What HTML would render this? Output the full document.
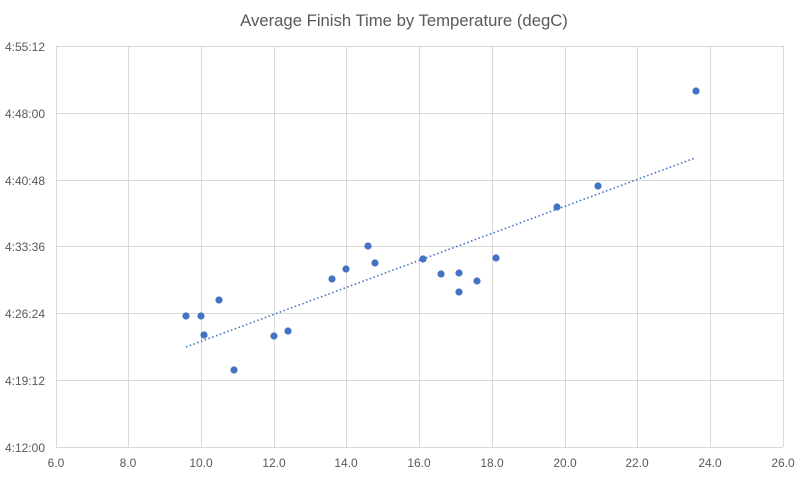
<!DOCTYPE html>
<html><head><style>body{margin:0;background:#fff}</style></head><body>
<svg width="809" height="478" xmlns="http://www.w3.org/2000/svg" font-family="Liberation Sans, sans-serif">
<rect width="809" height="478" fill="#fff"/>
<text x="404" y="26" text-anchor="middle" font-size="16.7" fill="#595959">Average Finish Time by Temperature (degC)</text>
<g stroke="#d9d9d9" stroke-width="1">
<line x1="56" y1="46.5" x2="783" y2="46.5"/><line x1="56" y1="113.5" x2="783" y2="113.5"/><line x1="56" y1="180.5" x2="783" y2="180.5"/><line x1="56" y1="246.5" x2="783" y2="246.5"/><line x1="56" y1="313.5" x2="783" y2="313.5"/><line x1="56" y1="380.5" x2="783" y2="380.5"/><line x1="56" y1="447.5" x2="783" y2="447.5"/>
<line x1="56.5" y1="46" x2="56.5" y2="447"/><line x1="128.5" y1="46" x2="128.5" y2="447"/><line x1="201.5" y1="46" x2="201.5" y2="447"/><line x1="274.5" y1="46" x2="274.5" y2="447"/><line x1="346.5" y1="46" x2="346.5" y2="447"/><line x1="419.5" y1="46" x2="419.5" y2="447"/><line x1="492.5" y1="46" x2="492.5" y2="447"/><line x1="565.5" y1="46" x2="565.5" y2="447"/><line x1="637.5" y1="46" x2="637.5" y2="447"/><line x1="710.5" y1="46" x2="710.5" y2="447"/><line x1="783.5" y1="46" x2="783.5" y2="447"/>
</g>
<g font-size="12" fill="#595959" text-anchor="end">
<text x="45" y="51">4:55:12</text><text x="45" y="118">4:48:00</text><text x="45" y="185">4:40:48</text><text x="45" y="251">4:33:36</text><text x="45" y="318">4:26:24</text><text x="45" y="385">4:19:12</text><text x="45" y="452">4:12:00</text>
</g>
<g font-size="12" fill="#595959" text-anchor="middle">
<text x="56" y="467">6.0</text><text x="128" y="467">8.0</text><text x="201" y="467">10.0</text><text x="274" y="467">12.0</text><text x="346" y="467">14.0</text><text x="419" y="467">16.0</text><text x="492" y="467">18.0</text><text x="565" y="467">20.0</text><text x="637" y="467">22.0</text><text x="710" y="467">24.0</text><text x="783" y="467">26.0</text>
</g>
<line x1="186" y1="347" x2="695" y2="158" stroke="#4472c4" stroke-width="1.6" stroke-dasharray="1.5,2.5"/>
<g fill="#4472c4">
<circle cx="186" cy="316" r="3.6"/><circle cx="201" cy="316" r="3.6"/><circle cx="204" cy="335" r="3.6"/><circle cx="219" cy="300" r="3.6"/><circle cx="234" cy="370" r="3.6"/><circle cx="274" cy="336" r="3.6"/><circle cx="288" cy="331" r="3.6"/><circle cx="332" cy="279" r="3.6"/><circle cx="346" cy="269" r="3.6"/><circle cx="368" cy="246" r="3.6"/><circle cx="375" cy="263" r="3.6"/><circle cx="423" cy="259" r="3.6"/><circle cx="441" cy="274" r="3.6"/><circle cx="459" cy="273" r="3.6"/><circle cx="459" cy="292" r="3.6"/><circle cx="477" cy="281" r="3.6"/><circle cx="496" cy="258" r="3.6"/><circle cx="557" cy="207" r="3.6"/><circle cx="598" cy="186" r="3.6"/><circle cx="696" cy="91" r="3.6"/>
</g>
</svg>
</body></html>
